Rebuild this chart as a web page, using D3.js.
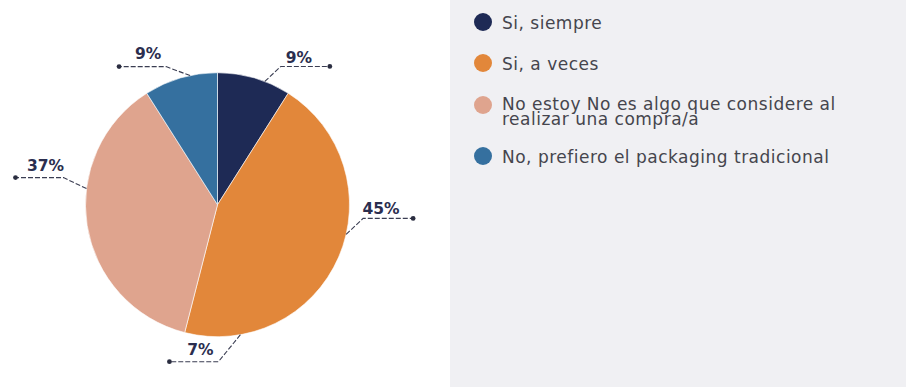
<!DOCTYPE html>
<html>
<head>
<meta charset="utf-8">
<script src="https://cdn.jsdelivr.net/npm/d3@7"></script>
<style>
  html, body { margin: 0; padding: 0; background: #ffffff; }
  svg { display: block; }
</style>
</head>
<body>
<svg id="chart" width="906" height="387"></svg>
<script>
// Survey answers and their shares (%)
const categories = [
  "Si, siempre",
  "Si, a veces",
  "No estoy No es algo que considere al realizar una compra/a",
  "No, prefiero el packaging tradicional"
];
const values = [9, 45, 37, 9];
const valueLabels = ["9%", "45%", "37%", "9%"];
// An extra callout printed under the pie
const extraLabels = ["7%"];

// Styling
const palette = ["#1e2a55", "#e2873a", "#dfa48e", "#35709f"];
const labelColor = "#2b2e4f";
const leaderColor = "#3a3d52";

const W = 906, H = 387;
const cx = 217.5, cy = 204.7, R = 132;

// Callout geometry: anchor angle on the rim (deg, clockwise from top),
// elbow offset from the anchor, horizontal arm length, text lift above arm
const calloutLayout = [
  { angle: 21,  ex: 16,  ey: -15, arm: 49,  lift: 3 },
  { angle: 103, ex: 17,  ey: -16, arm: 50,  lift: 4 },
  { angle: 277, ex: -23, ey: -11, arm: -48, lift: 7 },
  { angle: 348, ex: -24, ey: -9,  arm: -47, lift: 8 }
];
const extraLayout = [
  { angle: 170, ex: -22, ey: 27, arm: -49, lift: 7 }
];

const svg = d3.select("#chart");

// Right-hand legend panel
svg.append("rect")
  .attr("x", 450).attr("y", 0)
  .attr("width", W - 450).attr("height", H)
  .attr("fill", "#f0f0f3");

// Pie
const pie = d3.pie().sort(null).value(d => d)
  .startAngle(0).endAngle(2 * Math.PI);
const arcs = pie(values);
const arc = d3.arc().innerRadius(0).outerRadius(R);

const g = svg.append("g").attr("transform", `translate(${cx},${cy})`);
g.selectAll("path.slice")
  .data(arcs)
  .join("path")
  .attr("class", "slice")
  .attr("d", arc)
  .attr("fill", (d, i) => palette[i])
  .attr("stroke", "#ffffff")
  .attr("stroke-width", 0.6);

// Callouts
function polar(angleDeg, r) {
  const a = angleDeg * Math.PI / 180;
  return [r * Math.sin(a), -r * Math.cos(a)];
}

function drawCallout(text, lay) {
  const [ax, ay] = polar(lay.angle, R);
  const bx = ax + lay.ex, by = ay + lay.ey;
  const endX = bx + lay.arm;
  const dir = Math.sign(lay.arm);
  g.append("path")
    .attr("d", `M${ax},${ay}L${bx},${by}L${endX},${by}`)
    .attr("fill", "none")
    .attr("stroke", leaderColor)
    .attr("stroke-width", 1.1)
    .attr("stroke-dasharray", "5,2");
  g.append("circle")
    .attr("cx", endX).attr("cy", by).attr("r", 2.4)
    .attr("fill", "#2a2d40");
  g.append("text")
    .attr("x", bx + dir * 18)
    .attr("y", by - lay.lift)
    .attr("text-anchor", "middle")
    .attr("font-family", "'DejaVu Sans', sans-serif")
    .attr("font-weight", 700)
    .attr("font-size", 15.5)
    .attr("fill", labelColor)
    .text(text);
}

arcs.forEach((d, i) => drawCallout(valueLabels[i], calloutLayout[i]));
extraLabels.forEach((t, i) => drawCallout(t, extraLayout[i]));

// Legend
const legendX = 483, textX = 502;
const rowY = [22, 63, 105, 156];
const legendFont = "'DejaVu Sans', sans-serif";
const legendSize = 17;
const maxTextWidth = 360;

const legend = svg.append("g");
categories.forEach((c, i) => {
  legend.append("circle")
    .attr("cx", legendX).attr("cy", rowY[i]).attr("r", 9)
    .attr("fill", palette[i]);

  const t = legend.append("text")
    .attr("x", textX)
    .attr("font-family", legendFont)
    .attr("font-size", legendSize)
    .attr("letter-spacing", 0.5)
    .attr("fill", "#45454d");

  // word wrap to the panel width
  const words = c.split(" ");
  let lines = [], cur = [];
  const probe = t.append("tspan");
  words.forEach(w => {
    const test = cur.concat(w).join(" ");
    probe.text(test);
    if (probe.node().getComputedTextLength() > maxTextWidth && cur.length) {
      lines.push(cur.join(" "));
      cur = [w];
    } else {
      cur.push(w);
    }
  });
  lines.push(cur.join(" "));
  probe.remove();

  const lh = 14.5;
  const first = lines.length > 1 ? rowY[i] + 5 : rowY[i] + 7;
  lines.forEach((ln, k) => {
    t.append("tspan")
      .attr("x", textX)
      .attr("y", first + k * lh)
      .text(ln);
  });
});
</script>
</body>
</html>
